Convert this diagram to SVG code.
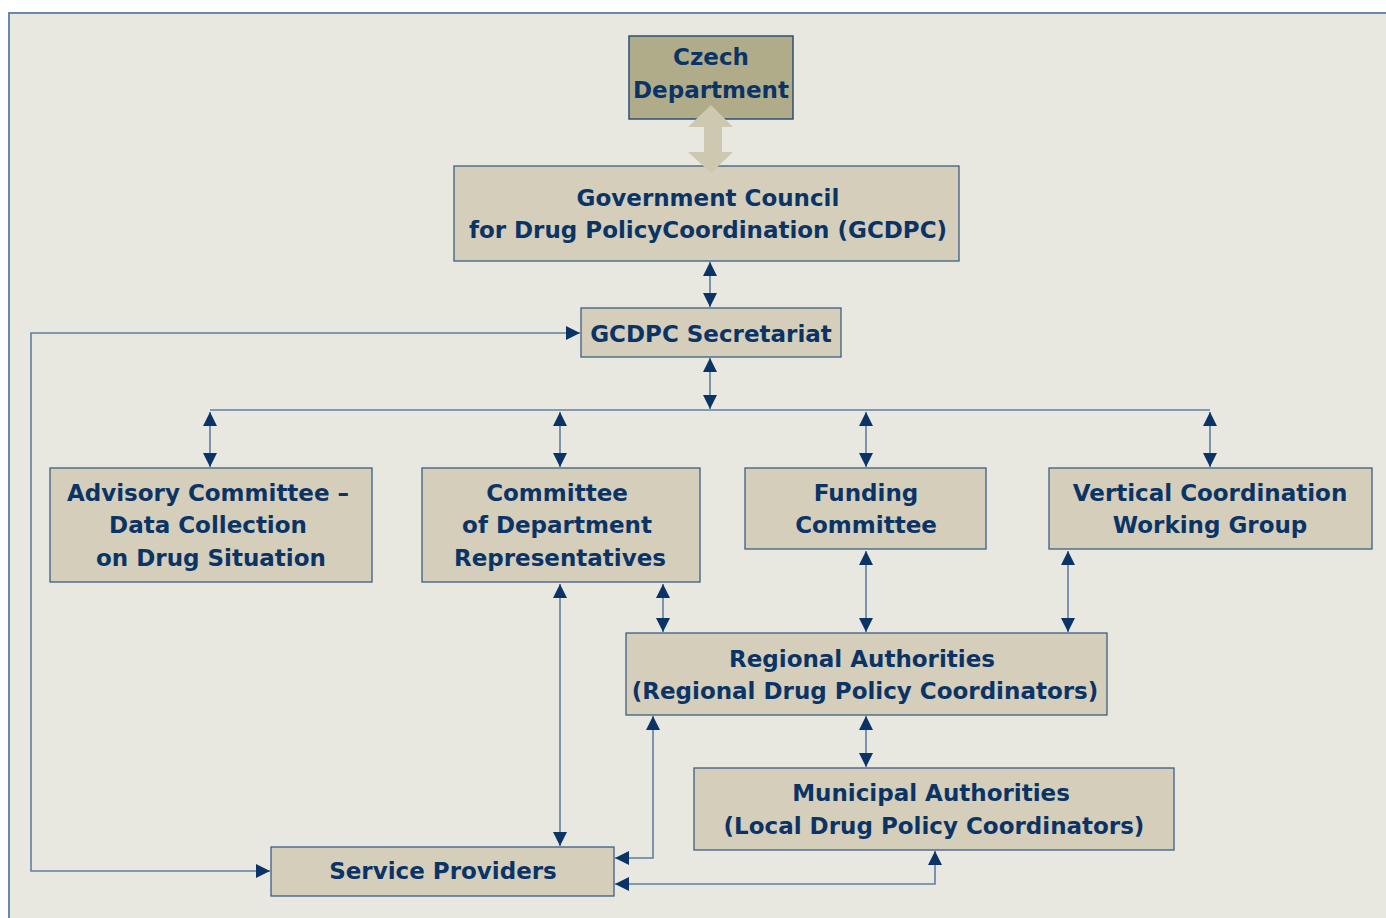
<svg xmlns="http://www.w3.org/2000/svg" width="1386" height="918" viewBox="0 0 1386 918">
<style>
.bg{fill:#e9e8e0;stroke:none}
.frame{stroke:#6a88a8;stroke-width:2;fill:none}
.box{fill:#d5cebb;stroke:#3d5f85;stroke-width:1.3}
.top{fill:#b0ab88;stroke:#2a4f7a;stroke-width:1.5}
.t{font-family:"DejaVu Sans",sans-serif;font-weight:bold;font-size:23px;fill:#0b3466;text-anchor:middle}
.c{stroke:#5f7f9f;stroke-width:1.6;fill:none}
</style>
<defs>
<marker id="ah" viewBox="0 0 10 10" refX="10" refY="5" markerWidth="14" markerHeight="14" markerUnits="userSpaceOnUse" orient="auto-start-reverse">
<path d="M0,0 L10,5 L0,10 Z" fill="#0b3466"/>
</marker>
</defs>
<rect x="0" y="0" width="1386" height="918" fill="#ffffff"/>
<rect class="bg" x="9" y="13" width="1377" height="905"/>
<path class="frame" d="M9,918 V13 H1386"/>

<g id="connectors">
<line class="c" x1="710" y1="262" x2="710" y2="307" marker-start="url(#ah)" marker-end="url(#ah)"/>
<line class="c" x1="710" y1="358" x2="710" y2="409" marker-start="url(#ah)" marker-end="url(#ah)"/>
<line class="c" x1="210" y1="410" x2="1210" y2="410"/>
<line class="c" x1="210" y1="412" x2="210" y2="467" marker-start="url(#ah)" marker-end="url(#ah)"/>
<line class="c" x1="560" y1="412" x2="560" y2="467" marker-start="url(#ah)" marker-end="url(#ah)"/>
<line class="c" x1="866" y1="412" x2="866" y2="467" marker-start="url(#ah)" marker-end="url(#ah)"/>
<line class="c" x1="1210" y1="412" x2="1210" y2="467" marker-start="url(#ah)" marker-end="url(#ah)"/>
<line class="c" x1="560" y1="584" x2="560" y2="846" marker-start="url(#ah)" marker-end="url(#ah)"/>
<line class="c" x1="663" y1="584" x2="663" y2="632" marker-start="url(#ah)" marker-end="url(#ah)"/>
<line class="c" x1="866" y1="551" x2="866" y2="632" marker-start="url(#ah)" marker-end="url(#ah)"/>
<line class="c" x1="1068" y1="551" x2="1068" y2="632" marker-start="url(#ah)" marker-end="url(#ah)"/>
<line class="c" x1="866" y1="716" x2="866" y2="767" marker-start="url(#ah)" marker-end="url(#ah)"/>
<polyline class="c" points="653,716 653,858 615,858" marker-start="url(#ah)" marker-end="url(#ah)"/>
<polyline class="c" points="935,851 935,884 615,884" marker-start="url(#ah)" marker-end="url(#ah)"/>
<polyline class="c" points="580,333 31,333 31,871 270,871" marker-start="url(#ah)" marker-end="url(#ah)"/>
</g>

<g id="czech">
<rect class="top" x="629" y="36" width="164" height="83"/>
<text class="t" x="711" y="65">Czech</text>
<text class="t" x="711" y="98">Department</text>
</g>

<g id="gcdpc">
<rect class="box" x="454" y="166" width="505" height="95"/>
<text class="t" x="708" y="206">Government Council</text>
<text class="t" x="708" y="238">for Drug PolicyCoordination (GCDPC)</text>
</g>

<path id="big-arrow" d="M704,127 H688 L711,105 L733,127 H722 V152 H733 L711,173 L688,152 H704 Z" fill="#cdc8b0"/>

<g id="secretariat">
<rect class="box" x="581" y="308" width="260" height="49"/>
<text class="t" x="711" y="342">GCDPC Secretariat</text>
</g>

<g id="advisory">
<rect class="box" x="50" y="468" width="322" height="114"/>
<text class="t" x="208" y="501">Advisory Committee –</text>
<text class="t" x="208" y="533">Data Collection</text>
<text class="t" x="211" y="566">on Drug Situation</text>
</g>

<g id="committee">
<rect class="box" x="422" y="468" width="278" height="114"/>
<text class="t" x="557" y="501">Committee</text>
<text class="t" x="557" y="533">of Department</text>
<text class="t" x="560" y="566">Representatives</text>
</g>

<g id="funding">
<rect class="box" x="745" y="468" width="241" height="81"/>
<text class="t" x="866" y="501">Funding</text>
<text class="t" x="866" y="533">Committee</text>
</g>

<g id="vertical">
<rect class="box" x="1049" y="468" width="323" height="81"/>
<text class="t" x="1210" y="501">Vertical Coordination</text>
<text class="t" x="1210" y="533">Working Group</text>
</g>

<g id="regional">
<rect class="box" x="626" y="633" width="481" height="82"/>
<text class="t" x="862" y="667">Regional Authorities</text>
<text class="t" x="865" y="699">(Regional Drug Policy Coordinators)</text>
</g>

<g id="municipal">
<rect class="box" x="694" y="768" width="480" height="82"/>
<text class="t" x="931" y="801">Municipal Authorities</text>
<text class="t" x="934" y="834">(Local Drug Policy Coordinators)</text>
</g>

<g id="service">
<rect class="box" x="271" y="847" width="343" height="49"/>
<text class="t" x="443" y="879">Service Providers</text>
</g>
</svg>
